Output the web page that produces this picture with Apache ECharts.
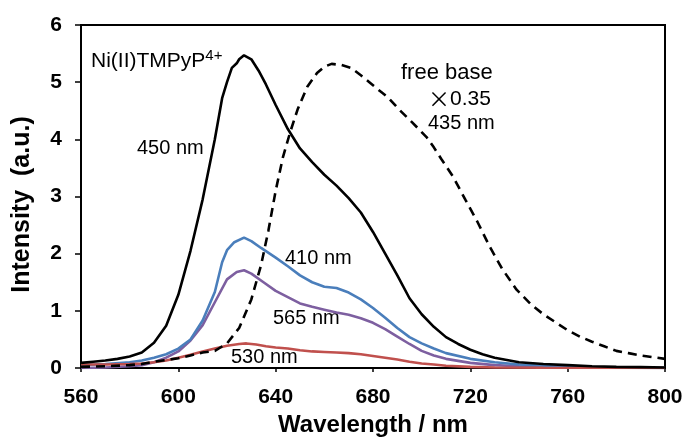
<!DOCTYPE html>
<html>
<head>
<meta charset="utf-8">
<script src="https://cdn.jsdelivr.net/npm/echarts@6/dist/echarts.min.js"></script>
<style>
  html, body { margin: 0; padding: 0; background: #fff; }
  #chart { width: 685px; height: 437px; }
</style>
</head>
<body>
<div id="chart"></div>
<script>
// Emission spectra: wavelength (nm) vs intensity (a.u.), one trace per excitation wavelength
const ex450 = [
  [560,0.09],[565,0.11],[570,0.13],[575,0.16],[580,0.20],[585,0.27],[590,0.44],[595,0.74],
  [600,1.28],[605,2.05],[610,2.95],[615,4.00],[618,4.72],[620,5.00],[622,5.25],[624,5.33],
  [625,5.40],[627,5.47],[630,5.40],[633,5.20],[636,4.96],[640,4.60],[645,4.18],[650,3.84],
  [655,3.60],[660,3.38],[665,3.19],[670,2.97],[675,2.72],[680,2.38],[685,2.00],[690,1.62],
  [695,1.22],[700,0.94],[705,0.72],[710,0.54],[715,0.42],[720,0.32],[725,0.24],[730,0.18],
  [740,0.10],[750,0.07],[760,0.05],[770,0.03],[780,0.02],[790,0.015],[800,0.01]
];
const ex410 = [
  [560,0.05],[570,0.07],[580,0.10],[585,0.13],[590,0.18],[595,0.24],[600,0.34],[605,0.50],
  [610,0.83],[615,1.33],[618,1.85],[620,2.06],[623,2.20],[627,2.28],[630,2.22],[634,2.10],
  [640,1.93],[645,1.78],[650,1.62],[655,1.50],[660,1.42],[665,1.40],[670,1.32],[675,1.20],
  [680,1.05],[685,0.88],[690,0.70],[695,0.54],[700,0.43],[705,0.34],[710,0.26],[720,0.16],
  [730,0.10],[740,0.06],[750,0.04],[760,0.02],[780,0.01],[800,0.0]
];
const ex565 = [
  [560,0.0],[570,0.01],[580,0.03],[585,0.05],[590,0.10],[595,0.18],[600,0.29],[605,0.48],
  [610,0.75],[615,1.15],[620,1.55],[624,1.68],[627,1.71],[630,1.65],[635,1.50],[640,1.35],
  [645,1.24],[650,1.13],[655,1.07],[660,1.02],[665,0.97],[670,0.93],[675,0.87],[680,0.79],
  [685,0.68],[690,0.55],[695,0.42],[700,0.30],[705,0.22],[710,0.16],[720,0.09],[730,0.05],
  [740,0.03],[750,0.02],[770,0.01],[800,0.0]
];
const ex530 = [
  [560,0.06],[570,0.06],[580,0.07],[585,0.08],[590,0.10],[595,0.13],[600,0.18],[605,0.23],
  [610,0.29],[615,0.34],[620,0.39],[625,0.42],[628,0.43],[632,0.41],[636,0.38],[640,0.36],
  [645,0.34],[650,0.31],[655,0.29],[660,0.28],[665,0.27],[670,0.26],[675,0.24],[680,0.21],
  [685,0.18],[690,0.15],[695,0.11],[700,0.08],[705,0.06],[710,0.04],[720,0.02],[730,0.01],
  [750,0.005],[800,0.0]
];
// free base porphyrin, 435 nm excitation, scaled by 0.35
const freeBase435 = [
  [560,0.02],[570,0.03],[580,0.05],[585,0.07],[590,0.11],[595,0.14],[600,0.17],[605,0.22],
  [610,0.27],[615,0.30],[620,0.43],[625,0.70],[630,1.20],[634,1.80],[637,2.40],[640,3.10],
  [643,3.69],[646,4.13],[649,4.52],[653,4.92],[657,5.16],[660,5.27],[663,5.32],[667,5.30],
  [671,5.25],[675,5.12],[679,4.98],[683,4.84],[686,4.74],[691,4.51],[696,4.30],[702,4.04],
  [705,3.86],[708,3.66],[713,3.34],[718,2.94],[723,2.55],[728,2.12],[733,1.74],[739,1.37],
  [745,1.11],[750,0.94],[755,0.80],[760,0.66],[765,0.55],[770,0.46],[775,0.38],[780,0.30],
  [785,0.26],[790,0.22],[795,0.19],[800,0.16]
];

const xTicks = [560, 600, 640, 680, 720, 760, 800];
const yTicks = [0, 1, 2, 3, 4, 5, 6];

const FONT = '"Liberation Sans", Arial, sans-serif';
const CJK = '"Noto Sans CJK JP", "Liberation Sans", sans-serif';

function lineSeries(name, data, color, dashed) {
  return {
    name: name,
    type: 'line',
    data: data,
    showSymbol: false,
    smooth: false,
    silent: true,
    lineStyle: { color: color, width: 2.6, type: dashed ? [9, 6] : 'solid' }
  };
}

// plain annotation text, vertically centred on y
function note(text, x, y, size, rich) {
  return {
    type: 'text', silent: true,
    style: { text: text, x: x, y: y, fill: '#000', fontFamily: FONT, fontSize: size,
             align: 'left', verticalAlign: 'middle', rich: rich }
  };
}

const chart = echarts.init(document.getElementById('chart'), null, { renderer: 'canvas' });

chart.setOption({
  animation: false,
  backgroundColor: '#fff',
  grid: {
    left: 81, right: 20, top: 25, bottom: 69,
    outerBoundsMode: 'none',
    containLabel: false,
    show: true, borderColor: '#000', borderWidth: 2, backgroundColor: 'transparent'
  },
  xAxis: {
    type: 'value',
    min: xTicks[0], max: xTicks[xTicks.length - 1], interval: 40,
    name: 'Wavelength / nm',
    nameLocation: 'middle', nameGap: 45,
    nameTextStyle: { fontFamily: FONT, fontSize: 24, fontWeight: 'bold', color: '#000' },
    axisLine: { lineStyle: { color: '#000', width: 2 } },
    axisTick: { show: true, inside: false, length: 4, lineStyle: { color: '#000', width: 1.5 } },
    axisLabel: { fontFamily: FONT, fontSize: 21, fontWeight: 'bold', color: '#000', margin: 19 },
    splitLine: { show: false }
  },
  yAxis: {
    type: 'value',
    min: yTicks[0], max: yTicks[yTicks.length - 1], interval: 1,
    name: 'Intensity  (a.u.)',
    nameLocation: 'middle', nameGap: 46,
    nameTextStyle: { fontFamily: FONT, fontSize: 25, fontWeight: 'bold', color: '#000',
                     padding: [0, 16, 0, 0] },
    axisLine: { show: true, lineStyle: { color: '#000', width: 2 } },
    axisTick: { show: true, inside: false, length: 6, lineStyle: { color: '#000', width: 1.5 } },
    axisLabel: { fontFamily: FONT, fontSize: 21, fontWeight: 'bold', color: '#000', margin: 19 },
    splitLine: { show: false }
  },
  series: [
    lineSeries('565 nm', ex565, '#7D5FA0', false),
    lineSeries('410 nm', ex410, '#4A7EBB', false),
    lineSeries('530 nm', ex530, '#C0504D', false),
    lineSeries('free base 435 nm', freeBase435, '#000', true),
    lineSeries('450 nm', ex450, '#000', false)
  ],
  graphic: [
    {
      type: 'text', silent: true,
      style: {
        text: 'Ni(II)TMPyP{sup|4+}', x: 91, y: 61, align: 'left', verticalAlign: 'middle',
        fill: '#000', fontFamily: FONT, fontSize: 21,
        rich: { sup: { fontFamily: FONT, fontSize: 15, fill: '#000', padding: [0, 0, 10, 0] } }
      }
    },
    note('450 nm', 137, 148, 20),
    note('free base', 401, 73, 22),
    note('{m|×}0.35', 428, 99, 21, { m: { fontFamily: CJK, fontSize: 22, fill: '#000' } }),
    note('435 nm', 428, 123, 20),
    note('410 nm', 285, 258, 20),
    note('565 nm', 273, 318, 20),
    note('530 nm', 231, 357, 20)
  ]
});
</script>
</body>
</html>
